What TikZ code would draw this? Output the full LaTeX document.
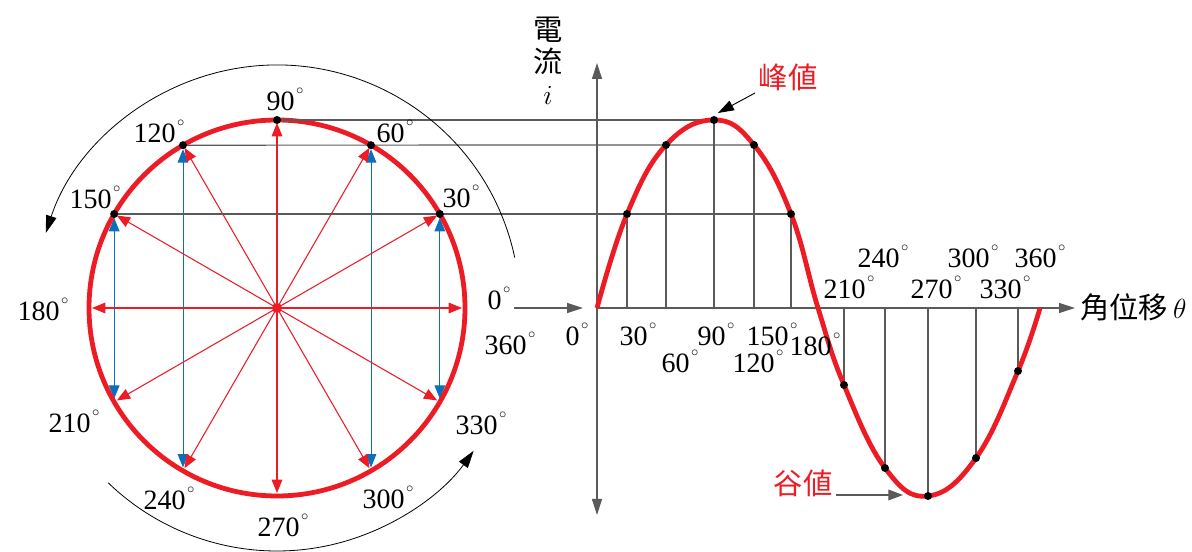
\documentclass[tikz,border=0pt]{standalone}
\usepackage{fontspec}
\setmainfont{Liberation Serif}
\newfontfamily\cjk{Noto Sans CJK TC}
\usetikzlibrary{arrows.meta}
\definecolor{wavered}{HTML}{ED1C24}
\definecolor{projblue}{HTML}{0B6FBE}
\definecolor{guidegray}{HTML}{5A5A5A}
\newcommand{\dg}{\kern1pt\raisebox{1.25ex}{$\scriptscriptstyle\circ$}}

\begin{document}
\begin{tikzpicture}[x=0.75pt, y=0.75pt,
  deg/.style={font=\fontsize{21}{24}\selectfont, inner sep=0pt},
  hanzi/.style={font=\cjk\fontsize{22}{24}\selectfont, inner sep=0pt},
  phasor/.style={-{Triangle[length=10pt, width=8pt]}},
  axistip/.style={-{Triangle[length=12pt, width=7.5pt]}},
  guide/.style={guidegray, line width=0.9pt}]
\useasboundingbox (0,0) rectangle (1192,552);

% rotating phasor circle
\coordinate (o) at (277,244);
\foreach \a in {0,30,...,330} {
  \path (o) ++(\a:188) coordinate (p\a);
  \path (o) ++(\a:185) coordinate (q\a);
}
\foreach \a/\b in {150/210, 120/240, 60/300, 30/330}
  \draw[projblue, line width=0.7pt, {Triangle[length=10pt, width=8pt]}-{Triangle[length=10pt, width=8pt]},
        shorten <=2.5pt, shorten >=3pt] (p\b) -- (p\a);
\foreach \a in {0,30,...,330}
  \draw[wavered, line width=0.8pt, phasor] (o) -- (q\a);
\draw[wavered, line width=3.6pt] (o) circle[radius=188];
\fill[wavered] (o) circle[radius=5];

% sine wave points
\foreach \a/\x/\y in {0/597/244, 30/627/338, 60/666/407, 90/714/432, 120/754/407, 150/791/338,
    180/818/244, 210/844/167, 240/885/84, 270/928/56, 300/976/94, 330/1018/181, 360/1040/244}
  \coordinate (s\a) at (\x,\y);

% axes
\coordinate (yb) at (597,37);
\coordinate (yt) at (597,489);
\coordinate (xe) at (1075,244);
\coordinate (ea) at (514,244);
\coordinate (eb) at (583,244);
\draw[guide, {Triangle[length=12pt, width=7.5pt]}-{Triangle[length=12pt, width=7.5pt]}] (yb) -- (yt);
\draw[guide, axistip] (s0) -- (xe);
\draw[guide, axistip] (ea) -- (eb);

% projections
\draw[guide] (p90) -- (s90);
\draw[guide] (p120) -- (s120);
\draw[guide] (p150) -- (s150);
\foreach \a in {30,60,90,120,150,210,240,270,300,330}
  \draw[guide] (s\a |- s0) -- (s\a);

\draw[wavered, line width=3.6pt] plot[smooth, tension=0.7] coordinates
  {(s0) (s30) (s60) (s90) (s120) (s150) (s180) (s210) (s240) (s270) (s300) (s330) (s360)};

\foreach \a in {30,60,90,120,150}
  \fill (p\a) circle[radius=4];
\foreach \a in {30,60,90,120,150,210,240,270,300,330}
  \fill (s\a) circle[radius=4];

% direction of rotation
\draw[line width=0.6pt, -{Triangle[length=13pt, width=8pt]}] (o) ++(12:243) arc[start angle=12, end angle=162, radius=243];
\draw[line width=0.6pt, -{Triangle[length=13pt, width=8pt]}] (o) ++(226:243) arc[start angle=226, end angle=324, radius=243];

% angle labels
\foreach \a/\x/\y in {90/285/453, 60/395/421, 30/461/356, 120/159/421, 150/95/355, 180/43/243,
    210/74/131, 240/169/54, 270/283/27, 300/388/55, 330/481/129}
  \node[deg] (c\a) at (\x,\y) {\a\dg};
\node[deg] (c0) at (499,254) {0\dg};
\node[deg] (c360) at (510,209) {360\dg};

\foreach \a/\x/\y in {0/577/218, 30/638/218, 90/716/218, 150/772/218, 60/680/191, 120/758/191,
    180/815/208, 210/849/265, 270/936/265, 330/1005/265, 240/883/296, 300/973/296, 360/1040/296}
  \node[deg] (w\a) at (\x,\y) {\a\dg};

\node[hanzi, anchor=west] (xlab) at (1080,245) {角位移\,$\theta$};
\node[hanzi, align=center] (ylab) at (548,491) {電\\流\\$i$};

% peak and valley
\node[hanzi, text=wavered] (peak) at (788,475) {峰値};
\coordinate (pka) at (755,459);
\coordinate (pkb) at (718,439);
\draw[line width=0.7pt, -{Triangle[length=12pt, width=8pt]}] (pka) -- (pkb);

\node[hanzi, text=wavered] (valley) at (803,69) {谷値};
\coordinate (va) at (836,57);
\coordinate (vb) at (903,57);
\draw[guide, -{Triangle[length=11pt, width=8pt]}] (va) -- (vb);
\end{tikzpicture}
\end{document}
